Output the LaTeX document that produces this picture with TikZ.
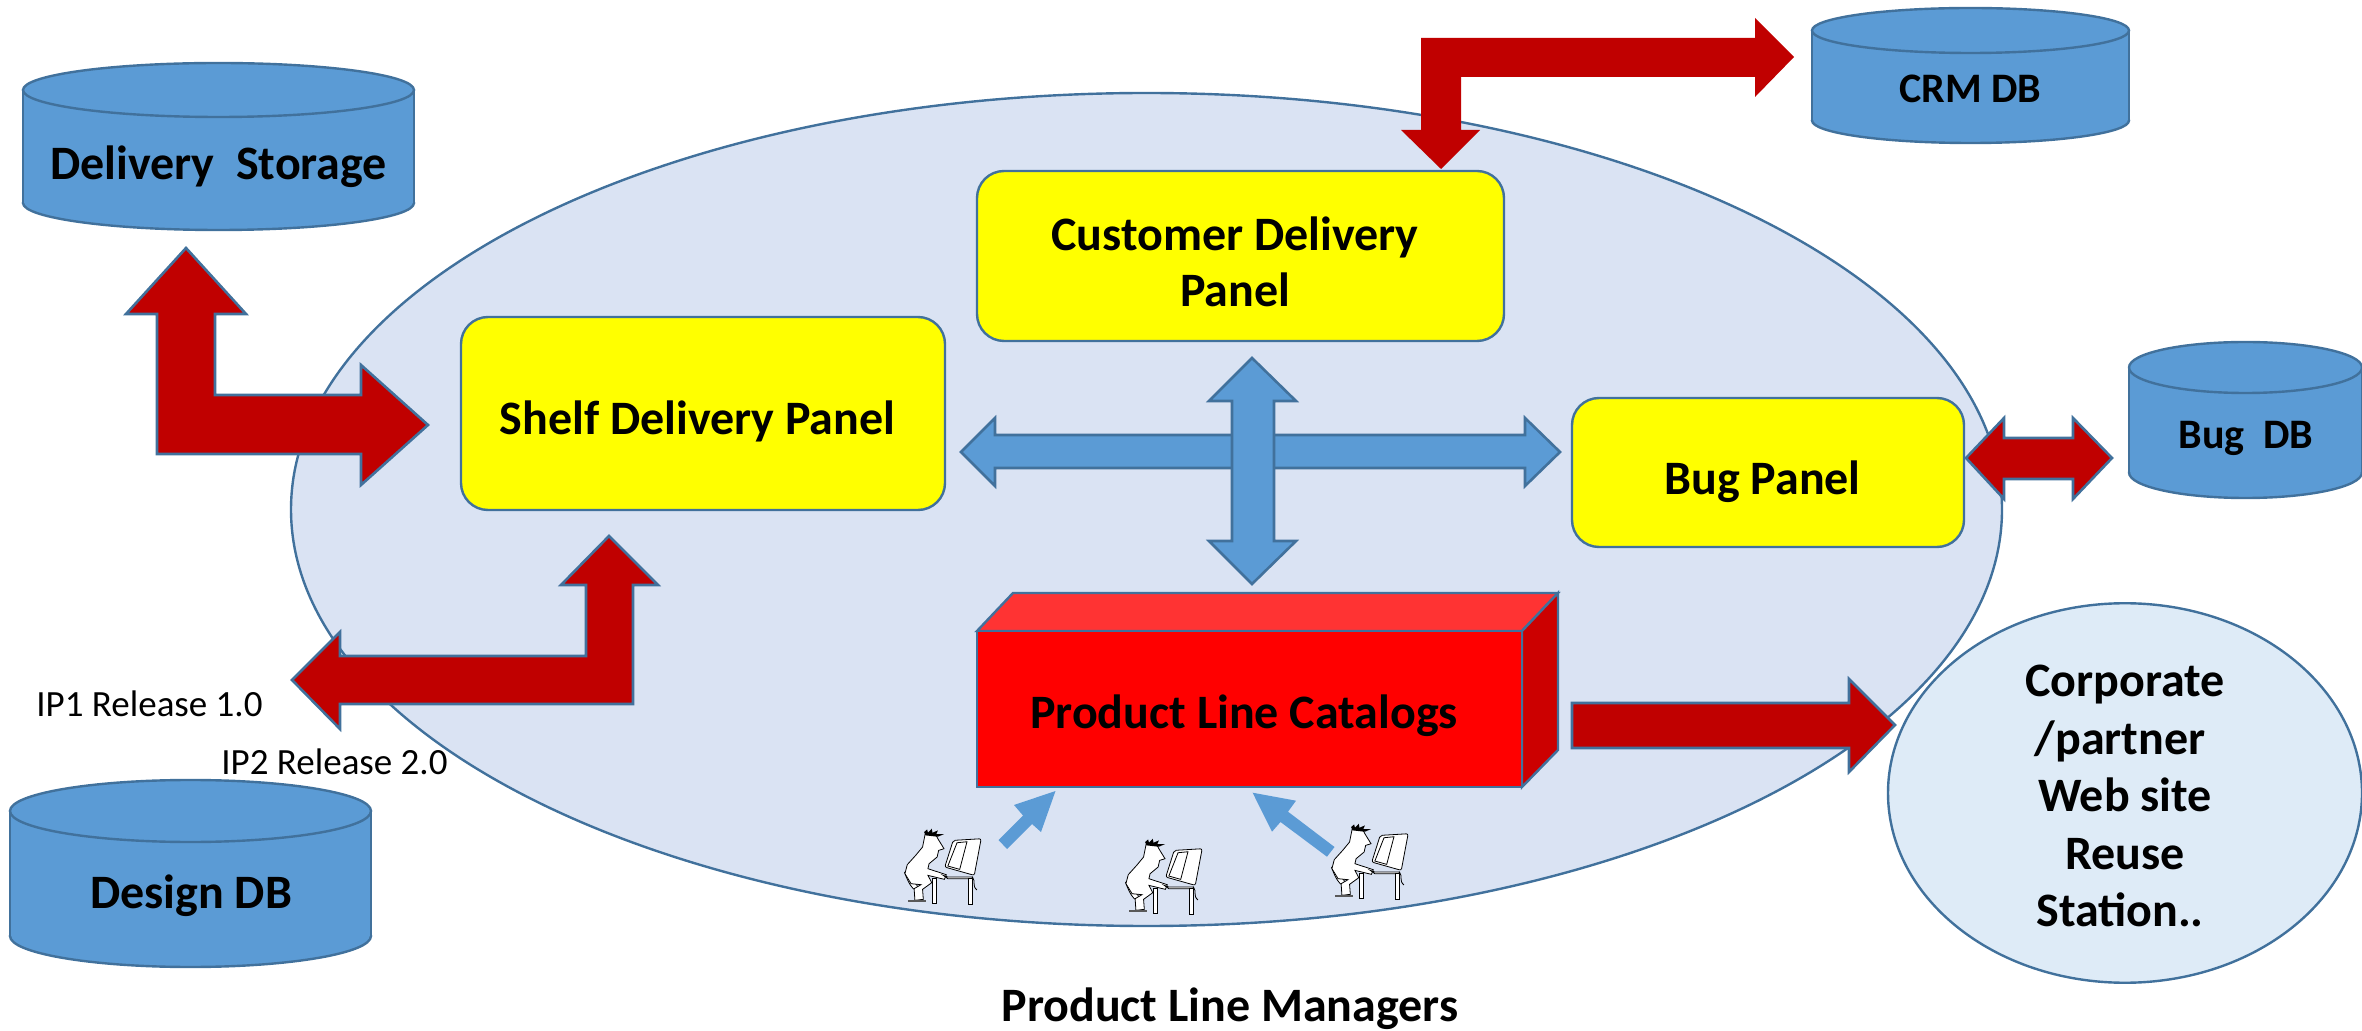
\documentclass[tikz,border=0pt]{standalone}
\usepackage{fontspec}
\setmainfont{Carlito}
\usetikzlibrary{shapes.geometric}

\definecolor{edgeblue}{HTML}{41719C}
\definecolor{boxblue}{HTML}{5B9BD5}
\definecolor{arrowred}{HTML}{C00000}
\definecolor{planeblue}{HTML}{DAE3F3}
\definecolor{siteblue}{HTML}{DEEBF7}
\definecolor{panelyellow}{HTML}{FFFF00}
\definecolor{boxfront}{HTML}{FF0000}
\definecolor{boxtop}{HTML}{FF3333}
\definecolor{boxside}{HTML}{CC0000}

\newcommand{\nudge}{\kern5.5pt}

\tikzset{
  boldtext/.style={font=\fontsize{#1}{28}\selectfont\bfseries},
  drumcap/.style={ellipse, draw=edgeblue, fill=boxblue, line width=1.2pt, inner sep=0pt, outer sep=0pt},
  dbname/.style={anchor=base, inner sep=0pt, boldtext=#1},
  panel/.style={draw=edgeblue, fill=panelyellow, line width=1.2pt, rounded corners=13.5pt,
    align=center, inner sep=0pt, boldtext=24},
  redarrow/.style={draw=edgeblue, fill=arrowred, line width=1.3pt},
  bluearrow/.style={draw=edgeblue, fill=boxblue, line width=1.3pt},
  plm/.pic={
    \begin{scope}[xscale=.383, yscale=.333, line width=.4pt]
      \draw[fill=white] (-8,-85) .. controls (-14,-110) and (0,-45) .. (20,-35)
        -- (30,-35) -- (8,-85) -- cycle;
      \draw[fill=white] (45,-205) .. controls (60,-210) and (75,-205) .. (78,-190)
        -- (94,-160) -- (80,-155) -- (76,-135) -- (55,-115) -- (52,-100)
        -- (100,-82) -- (95,-68) -- (52,-80) -- (62,-58) -- (38,-38) -- (40,-8)
        -- (18,-5) -- (16,-40) -- (34,-52) -- (8,-55) -- (-8,-85) -- (-2,-112)
        -- (20,-140) -- (38,-165) -- cycle;
      \fill (42,-210) -- (50,-218) -- (52,-208) -- (62,-220) -- (64,-208) -- (78,-215)
        -- (74,-204) -- (94,-204) -- (78,-196) -- (46,-200) -- cycle;
      \draw[fill=white, rounded corners=1pt] (118,-185) -- (191,-190) -- (173,-80)
        -- (96,-105) -- cycle;
      \draw[fill=white] (128,-178) -- (154,-181) -- (135,-98) -- (104,-108) -- cycle;
      \draw[fill=white] (92,-80) -- (104,-75) -- (168,-75) -- (168,-70) -- (104,-70) -- cycle;
      \draw[fill=white] (63,-70) rectangle (73,4);
      \draw[fill=white] (157,-72) rectangle (167,6);
      \fill[gray!70!black] (0,-5) rectangle (46,1);
      \draw (168,-76) .. controls (178,-60) and (166,-50) .. (180,-36);
    \end{scope}
  }
}

\begin{document}
\begin{tikzpicture}[x=.5pt, y=-.5pt]
  \useasboundingbox (0,0) rectangle (2362,1031);

  \node [ellipse, draw=edgeblue, fill=planeblue, line width=1.2pt, inner sep=0pt,
    minimum width=855.5pt, minimum height=416.5pt] (plane) at (1146.5,509.5) {};
  \node [ellipse, draw=edgeblue, fill=siteblue, line width=1.2pt, inner sep=0pt,
    minimum width=237pt, minimum height=163pt, align=center,
    font=\fontsize{24}{28.75}\selectfont\bfseries] (site) at (2125,793)
    {\rule{0pt}{19pt}Corporate\\/partner\kern5pt\\Web site\\Reuse\\Station..\kern5pt};

  % data stores
  \foreach \n/\cx/\top/\bot/\hw/\ry in {delivery/218.5/63/230/195.5/27, crm/1970.5/8/143/158.5/22.5,
      bug/2245.5/342/498/116.5/25.5, design/190.5/780/967/180.5/31} {
    \node [drumcap, minimum width=\hw pt, minimum height=\ry pt] (\n-base) at (\cx,\bot-\ry) {};
    \fill [boxblue] (\cx-\hw,\top+\ry) rectangle (\cx+\hw,\bot-\ry);
    \draw [edgeblue, line width=1.2pt] (\cx-\hw,\top+\ry) -- (\cx-\hw,\bot-\ry)
      (\cx+\hw,\top+\ry) -- (\cx+\hw,\bot-\ry);
    \node [drumcap, minimum width=\hw pt, minimum height=\ry pt] (\n) at (\cx,\top+\ry) {};
  }
  \node [dbname=24] (delivery-name) at (218.5,180) {Delivery\ \ Storage};
  \node [dbname=21] (crm-name) at (1970.5,103) {CRM DB};
  \node [dbname=21] (bug-name) at (2246,449) {Bug\ \ DB};
  \node [dbname=24] (design-name) at (191,908) {Design DB};

  % panels
  \node [panel, minimum width=242pt, minimum height=96.5pt, text height=25pt, text depth=3.5pt]
    (shelf) at (703,413.5) {Shelf Delivery Panel\nudge};
  \node [panel, minimum width=263.5pt, minimum height=85pt, font=\fontsize{24}{28}\selectfont\bfseries]
    (customer) at (1240.5,256) {\rule{0pt}{23pt}Customer Delivery\nudge\\Panel\nudge};
  \node [panel, minimum width=196pt, minimum height=74.5pt, text height=27pt, text depth=4.5pt]
    (bugpanel) at (1768,472.5) {Bug Panel\nudge};

  % catalog box
  \filldraw [fill=boxtop, draw=edgeblue, line width=1.2pt] (977,631) -- (1013,593) -- (1558,593) -- (1522,631) -- cycle;
  \filldraw [fill=boxside, draw=edgeblue, line width=1.2pt] (1522,631) -- (1558,593) -- (1558,750) -- (1522,787) -- cycle;
  \node [rectangle, draw=edgeblue, fill=boxfront, line width=1.2pt, inner sep=0pt, minimum width=272.5pt,
    minimum height=78pt, boldtext=24, text height=23pt, text depth=4pt] (catalog) at (1249.5,709) {Product Line Catalogs\nudge};

  % red block arrows
  \draw [redarrow] (186,248) -- (246,314) -- (215,314) -- (215,395) -- (361,395) -- (361,365)
    -- (428,425) -- (361,485) -- (361,454) -- (157,454) -- (157,314) -- (126,314) -- cycle;
  \draw [redarrow] (609,536) -- (658,585) -- (633,585) -- (633,704) -- (340,704) -- (340,729)
    -- (292,680) -- (340,632) -- (340,656) -- (586,656) -- (586,585) -- (561,585) -- cycle;
  \fill [arrowred] (1421,38) -- (1755,38) -- (1755,18) -- (1794,57) -- (1755,97) -- (1755,77)
    -- (1461,77) -- (1461,130) -- (1480,130) -- (1441,169) -- (1401,130) -- (1421,130) -- cycle;
  \draw [redarrow] (1966,458) -- (2004,418) -- (2004,438) -- (2073,438) -- (2073,418) -- (2112,458)
    -- (2073,499) -- (2073,479) -- (2004,479) -- (2004,499) -- cycle;
  \draw [redarrow] (1572,703) -- (1849,703) -- (1849,679) -- (1895,725) -- (1849,772) -- (1849,748)
    -- (1572,748) -- cycle;

  % blue block arrows
  \draw [bluearrow] (961,452) -- (995,418) -- (995,435) -- (1525,435) -- (1525,418) -- (1560,452)
    -- (1525,486) -- (1525,468) -- (995,468) -- (995,486) -- cycle;
  \draw [bluearrow] (1252,358) -- (1296,401) -- (1274,401) -- (1274,541) -- (1296,541) -- (1252,584)
    -- (1209,541) -- (1232,541) -- (1232,401) -- (1209,401) -- cycle;
  \fill [boxblue] (1055.5,791) -- (1041,832) -- (1032,824) -- (1007,849) -- (998.5,840) -- (1023,815.5) -- (1014,805) -- cycle;
  \fill [boxblue] (1252.6,792.7) -- (1296,800.7) -- (1288,811.7) -- (1334.5,847) -- (1327,856.7) -- (1280.5,822) -- (1272,831.7) -- cycle;

  % managers
  \foreach \x/\y [count=\i] in {908/902,1129/912,1335/897}
    \pic (manager-\i) at (\x,\y) {plm};

  % free labels
  \node [anchor=base west, inner sep=0pt, font=\fontsize{18.5}{22}\selectfont] (ipone) at (36,717) {IP1 Release 1.0};
  \node [anchor=base west, inner sep=0pt, font=\fontsize{18.5}{22}\selectfont] (iptwo) at (221,774) {IP2 Release 2.0};
  \node [dbname=24] (managers) at (1230,1021) {Product Line Managers};
\end{tikzpicture}
\end{document}
